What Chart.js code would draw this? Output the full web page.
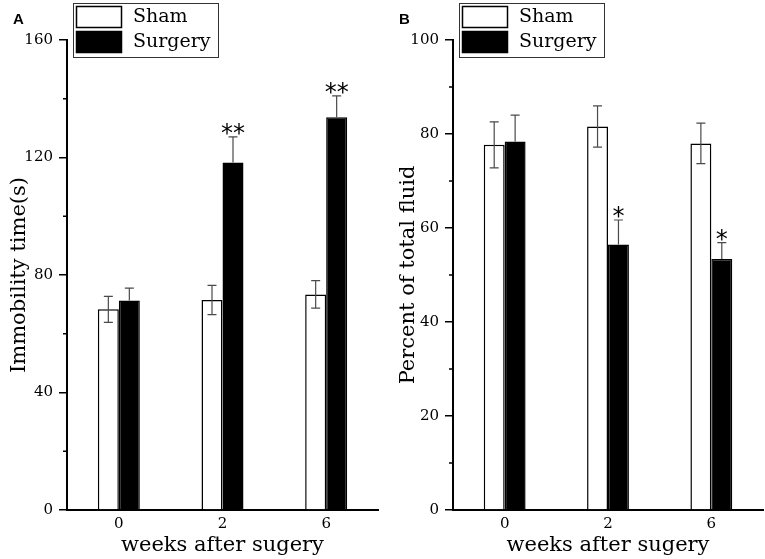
<!DOCTYPE html>
<html>
<head>
<meta charset="utf-8">
<script src="https://cdn.jsdelivr.net/npm/chart.js@4.4.1/dist/chart.umd.min.js"></script>
<style>
  body { margin: 0; background: #fff; }
  .panel { position: absolute; top: 0; height: 559px; }
</style>
</head>
<body>
<div class="panel" style="left:0;width:382px"><canvas id="chartA"></canvas></div>
<div class="panel" style="left:385px;width:380px"><canvas id="chartB"></canvas></div>
<script>
// values
const weekLabels = ['0', '2', '6'];
const seriesNames = ['Sham', 'Surgery'];

const immobilitySham = [68.3, 71.5, 73.4];
const immobilityShamErr = [4.4, 5.0, 4.7];
const immobilitySurgery = [71.3, 118.3, 133.7];
const immobilitySurgeryErr = [4.2, 8.7, 7.3];
const immobilityStars = ['', '**', '**'];
const immobilityMax = 160;
const immobilityStep = 40;

const fluidSham = [77.7, 81.6, 78.0];
const fluidShamErr = [4.9, 4.4, 4.3];
const fluidSurgery = [78.4, 56.5, 53.4];
const fluidSurgeryErr = [5.6, 5.2, 3.5];
const fluidStars = ['', '*', '*'];
const fluidMax = 100;
const fluidStep = 20;

const serif = 'DejaVu Serif';
Chart.defaults.color = '#000';

const figureExtras = {
    id: 'figureExtras',

    afterDatasetsDraw: function(chart) {
        let ctx = chart.ctx;
        let yScale = chart.scales.y;
        ctx.save();
        chart.data.datasets.forEach(function(ds, i) {
            let meta = chart.getDatasetMeta(i);
            meta.data.forEach(function(bar, j) {
                let top = yScale.getPixelForValue(ds.data[j] + ds.errors[j]);
                let low = yScale.getPixelForValue(ds.data[j] - ds.errors[j]);
                let dark = ds.backgroundColor === '#000';
                ctx.strokeStyle = '#4a4a4a';
                ctx.lineWidth = 1.2;
                ctx.beginPath();
                ctx.moveTo(bar.x, top);
                ctx.lineTo(bar.x, dark ? bar.y : low);
                ctx.moveTo(bar.x - 4.5, top);
                ctx.lineTo(bar.x + 4.5, top);
                if (!dark) {
                    ctx.moveTo(bar.x - 4.5, low);
                    ctx.lineTo(bar.x + 4.5, low);
                }
                ctx.stroke();

                if (ds.stars && ds.stars[j]) {
                    ctx.font = '24px "DejaVu Sans"';
                    ctx.fillStyle = '#000';
                    ctx.textAlign = 'center';
                    ctx.textBaseline = 'alphabetic';
                    let m = ctx.measureText(ds.stars[j]);
                    ctx.fillText(ds.stars[j], bar.x, top - 2 - m.actualBoundingBoxDescent);
                }
            });
        });
        ctx.restore();
    },

    afterDraw: function(chart, args, opts) {
        let ctx = chart.ctx;
        let area = chart.chartArea;
        let yScale = chart.scales.y;
        ctx.save();

        // minor ticks
        ctx.strokeStyle = '#000';
        ctx.lineWidth = 1.5;
        ctx.beginPath();
        for (let v = opts.step / 2; v < yScale.max; v += opts.step) {
            let y = yScale.getPixelForValue(v);
            ctx.moveTo(area.left - 4, y);
            ctx.lineTo(area.left, y);
        }
        ctx.stroke();

        // panel letter
        ctx.font = 'bold 15px "Liberation Sans"';
        ctx.fillStyle = '#000';
        ctx.textBaseline = 'alphabetic';
        ctx.fillText(opts.letter, area.left - 54, 24);

        // legend box
        let lx = area.left + 6;
        let ly = 3;
        ctx.strokeStyle = '#333';
        ctx.lineWidth = 1;
        ctx.strokeRect(lx + 0.5, ly + 0.5, 145, 54);
        chart.data.datasets.forEach(function(ds, i) {
            let sy = ly + 3 + i * 25;
            ctx.fillStyle = ds.backgroundColor;
            ctx.fillRect(lx + 3, sy, 46, 22);
            ctx.strokeStyle = '#000';
            ctx.lineWidth = 1.5;
            ctx.strokeRect(lx + 3.5, sy + 0.5, 45, 21);
            ctx.fillStyle = '#000';
            ctx.font = '19px "' + serif + '"';
            ctx.textBaseline = 'middle';
            ctx.fillText(ds.label, lx + 60, sy + 11);
        });
        ctx.restore();
    }
};

function buildChart(canvasId, opts) {
    let data = {
        labels: weekLabels,
        datasets: [{
            label: seriesNames[0],
            data: opts.sham,
            errors: opts.shamErr,
            backgroundColor: '#fff',
            borderColor: '#000',
            borderWidth: 1.5
        }, {
            label: seriesNames[1],
            data: opts.surgery,
            errors: opts.surgeryErr,
            stars: opts.stars,
            backgroundColor: '#000',
            borderColor: '#000',
            borderWidth: 1.5
        }]
    };

    let config = {
        type: 'bar',
        data: data,
        plugins: [figureExtras],
        options: {
            responsive: true,
            maintainAspectRatio: false,
            animation: false,
            categoryPercentage: 0.405,
            barPercentage: 1.0,
            layout: { padding: { top: 40, right: opts.padRight, left: 0, bottom: 0 } },
            plugins: {
                legend: { display: false },
                tooltip: { enabled: false },
                figureExtras: { step: opts.step, letter: opts.letter }
            },
            scales: {
                x: {
                    afterFit: function(scale) { scale.height = 49; },
                    grid: { display: true, drawOnChartArea: false, drawTicks: false },
                    border: { color: '#000', width: 2 },
                    ticks: { font: { family: serif, size: 15 }, padding: 5 },
                    title: {
                        display: true,
                        text: 'weeks after sugery',
                        font: { family: serif, size: 21 },
                        padding: { top: 0, bottom: 1 }
                    }
                },
                y: {
                    min: 0,
                    max: opts.max,
                    afterFit: function(scale) { scale.width = opts.axisWidth; },
                    grid: { drawOnChartArea: false, drawTicks: true, tickLength: 8, color: '#000', lineWidth: 1.5 },
                    border: { color: '#000', width: 2 },
                    ticks: { stepSize: opts.step, font: { family: serif, size: 15 }, padding: 6 },
                    title: {
                        display: true,
                        text: opts.yTitle,
                        font: { family: serif, size: 21 },
                        padding: { top: opts.titlePad, bottom: 0 }
                    }
                }
            }
        }
    };

    return new Chart(document.getElementById(canvasId), config);
}

buildChart('chartA', {
    letter: 'A',
    sham: immobilitySham, shamErr: immobilityShamErr,
    surgery: immobilitySurgery, surgeryErr: immobilitySurgeryErr,
    stars: immobilityStars,
    max: immobilityMax, step: immobilityStep,
    yTitle: 'Immobility time(s)',
    axisWidth: 67, padRight: 4, titlePad: 7
});

buildChart('chartB', {
    letter: 'B',
    sham: fluidSham, shamErr: fluidShamErr,
    surgery: fluidSurgery, surgeryErr: fluidSurgeryErr,
    stars: fluidStars,
    max: fluidMax, step: fluidStep,
    yTitle: 'Percent of total fluid',
    axisWidth: 68, padRight: 2, titlePad: 11
});
</script>
</body>
</html>
